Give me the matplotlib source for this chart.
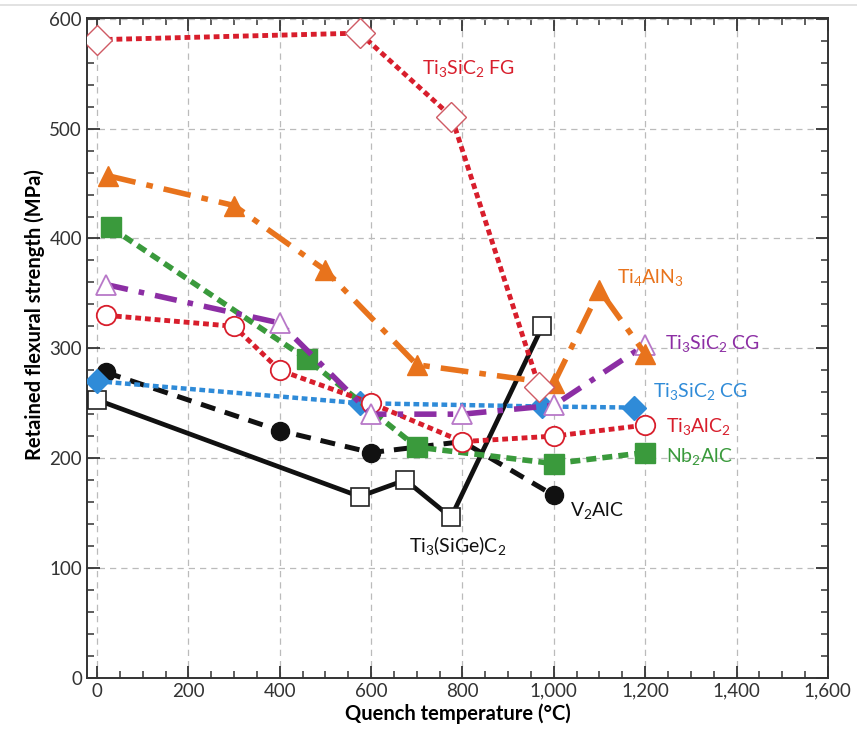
import matplotlib
matplotlib.use('Agg')
import matplotlib.pyplot as plt
from matplotlib.ticker import MultipleLocator, FuncFormatter
from matplotlib.lines import Line2D

plt.rcParams['font.family'] = ['Lato', 'DejaVu Sans']
plt.rcParams['mathtext.default'] = 'regular'

# data (quench temperature in C, strength in MPa)
fg_x = [0, 575, 776, 968]
fg_y = [581, 587, 511, 265]

tian_x = [25, 300, 500, 700, 1000, 1100, 1200]
tian_y = [457, 430, 371, 285, 268, 353, 295]

nb_x = [30, 460, 700, 1000, 1200]
nb_y = [410, 290, 210, 195, 205]

cg_p_x = [20, 400, 600, 800, 1000, 1200]
cg_p_y = [358, 323, 240, 240, 248, 303]

tialc_x = [20, 300, 400, 600, 800, 1000, 1200]
tialc_y = [330, 320, 280, 250, 215, 220, 230]

cg_b_x = [0, 575, 975, 1175]
cg_b_y = [270, 250, 247, 246]

v_x = [20, 400, 600, 800, 1000]
v_y = [278, 225, 205, 215, 166]

sige_x = [0, 575, 675, 775, 975]
sige_y = [253, 165, 180, 146, 320]

red = '#d81e2c'
orange = '#e8731c'
green = '#3a9a3c'
purple = '#8c2ea4'
blue = '#2f8bd8'
black = '#111111'

fig = plt.figure(figsize=(8.57, 7.40), dpi=100)
ax = fig.add_axes([0.1015, 0.0842, 0.8645, 0.8918])

# black solid, open squares
ax.plot(sige_x, sige_y, color=black, lw=3.4, ls='-', marker='s', ms=13,
        mfc='white', mec='#222222', mew=1.2, zorder=3)
# V2AlC black dashed (800 point hidden behind the open circle)
ax.plot(v_x, v_y, color=black, lw=3.6, ls=(0, (3, 2)), zorder=3)
ax.plot([v_x[i] for i in [0, 1, 2, 4]], [v_y[i] for i in [0, 1, 2, 4]],
        ls='none', marker='o', ms=13, color=black, zorder=3)
# blue Ti3SiC2 CG
ax.plot(cg_b_x, cg_b_y, color=blue, lw=3.2, ls=(0, (1.3, 0.8)), marker='D',
        ms=12, mfc=blue, mec=blue, zorder=4)
# green Nb2AlC
ax.plot(nb_x, nb_y, color=green, lw=4, ls=(0, (1.8, 1.1)), marker='s',
        ms=14, mfc=green, mec=green, zorder=4)
# red Ti3AlC2
ax.plot(tialc_x, tialc_y, color=red, lw=3.5, ls=(0, (1.2, 0.8)), marker='o',
        ms=14, mfc='white', mec=red, mew=1.3, zorder=5)
# purple Ti3SiC2 CG
ax.plot(cg_p_x, cg_p_y, color=purple, lw=4, ls=(0, (4, 2, 1, 2)), marker='^',
        ms=15, mfc='white', mec='#b878c8', mew=1.3, zorder=5)
# orange Ti4AlN3
ax.plot(tian_x, tian_y, color=orange, lw=4, ls=(0, (5, 2, 1.2, 2)), marker='^',
        ms=15, mfc=orange, mec=orange, zorder=6)
# red Ti3SiC2 FG
ax.plot(fg_x, fg_y, color=red, lw=3.5, ls=(0, (1.2, 0.8)), marker='D',
        ms=15, mfc='white', mec='#cf5a64', mew=1.0, zorder=6)

fs = 14
ax.text(712, 555, 'Ti$_3$SiC$_2$ FG', color=red, fontsize=fs, va='center')
ax.text(1138, 364, 'Ti$_4$AlN$_3$', color=orange, fontsize=fs, va='center')
ax.text(1244, 304, 'Ti$_3$SiC$_2$ CG', color=purple, fontsize=fs, va='center')
ax.text(1218, 261, 'Ti$_3$SiC$_2$ CG', color=blue, fontsize=fs, va='center')
ax.text(1246, 229, 'Ti$_3$AlC$_2$', color=red, fontsize=fs, va='center')
ax.text(1246, 201, 'Nb$_2$AlC', color=green, fontsize=fs, va='center')
ax.text(1036, 152, 'V$_2$AlC', color=black, fontsize=fs, va='center')
ax.text(682, 120, 'Ti$_3$(SiGe)C$_2$', color=black, fontsize=fs, va='center')

ax.set_xlim(-22, 1600)
ax.set_ylim(0, 601)
ax.xaxis.set_major_locator(MultipleLocator(200))
ax.xaxis.set_minor_locator(MultipleLocator(50))
ax.yaxis.set_major_locator(MultipleLocator(100))
ax.yaxis.set_minor_locator(MultipleLocator(20))
ax.xaxis.set_major_formatter(FuncFormatter(lambda v, p: f'{int(v):,}'))
ax.tick_params(which='both', direction='in', top=True, right=True,
               labelsize=13.5, labelcolor='#333333', color='#333333')
ax.tick_params(which='major', length=9, width=1.3)
ax.tick_params(which='minor', length=5, width=1.1)
ax.grid(True, which='major', ls=(0, (5, 4)), color='#bbbbbb', lw=0.9)
ax.set_axisbelow(True)
for s in ax.spines.values():
    s.set_linewidth(1.4)
    s.set_color('#333333')

ax.set_xlabel('Quench temperature (°C)', fontsize=14.5, fontweight='bold',
              labelpad=3)
ax.set_ylabel('Retained flexural strength (MPa)', fontsize=14.5,
              fontweight='bold', labelpad=6)
ax.yaxis.set_label_coords(-0.057, 0.55)

fig.add_artist(Line2D([0, 1], [0.993, 0.993], color='#dddddd', lw=1.2))

fig.savefig('out.png', dpi=100)
